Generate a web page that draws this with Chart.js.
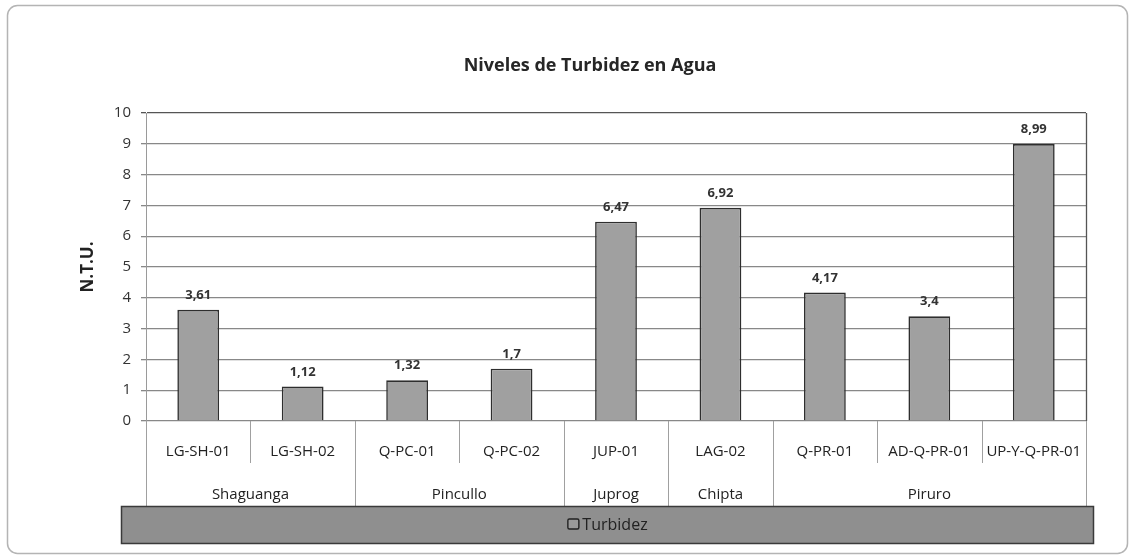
<!DOCTYPE html>
<html><head><meta charset="utf-8">
<script src="https://cdn.jsdelivr.net/npm/chart.js@4.4.0/dist/chart.umd.min.js"></script>
<style>html,body{margin:0;padding:0;background:#fff;}#wrap{width:1134px;height:556px;position:relative;}</style>
</head><body><div id="wrap"><canvas id="c" width="1134" height="556"></canvas></div>
<script>
const categories = ['LG-SH-01','LG-SH-02','Q-PC-01','Q-PC-02','JUP-01','LAG-02','Q-PR-01','AD-Q-PR-01','UP-Y-Q-PR-01'];
const turbidez = [3.61,1.12,1.32,1.7,6.47,6.92,4.17,3.4,8.99];
const valueLabels = ['3,61','1,12','1,32','1,7','6,47','6,92','4,17','3,4','8,99'];
const groups = ['Shaguanga','Pincullo','Juprog','Chipta','Piruro'];
const groupSpans = [2,2,1,1,3];
const seriesName = 'Turbidez';
const chartTitle = 'Niveles de Turbidez en Agua';
const yTitle = 'N.T.U.';
const yMin = 0, yMax = 10, yStep = 1;

const FONT = "'Open Sans', 'DejaVu Sans', sans-serif";

const decor = {
  id: 'decor',
  beforeDraw(chart) {
    const ctx = chart.ctx;
    ctx.save();
    ctx.fillStyle = '#fff';
    ctx.fillRect(0, 0, chart.width, chart.height);
    ctx.strokeStyle = '#b4b4b4';
    ctx.lineWidth = 1.5;
    ctx.beginPath();
    ctx.roundRect(7.5, 5.5, 1120, 548, 10);
    ctx.stroke();
    ctx.fillStyle = '#262626';
    ctx.font = "bold 18px " + FONT;
    ctx.textAlign = 'center';
    ctx.textBaseline = 'middle';
    ctx.fillText(chartTitle, 590, 66);
    ctx.restore();
  },
  afterDraw(chart) {
    const ctx = chart.ctx;
    const ca = chart.chartArea;
    const xs = chart.scales.x;
    const n = categories.length;
    const bnd = [ca.left];
    for (let i = 1; i < n; i++) bnd.push((xs.getPixelForValue(i - 1) + xs.getPixelForValue(i)) / 2);
    bnd.push(ca.right);
    const rowMid = ca.bottom + 42;
    const tableBottom = xs.bottom;
    ctx.save();
    ctx.strokeStyle = '#555';
    ctx.lineWidth = 1.3;
    ctx.beginPath();
    ctx.moveTo(Math.round(ca.right) + 0.5, ca.top);
    ctx.lineTo(Math.round(ca.right) + 0.5, ca.bottom);
    ctx.stroke();
    const groupEdges = new Set([0]);
    let acc = 0;
    groupSpans.forEach(s => { acc += s; groupEdges.add(acc); });
    ctx.strokeStyle = '#a0a0a0';
    ctx.lineWidth = 1;
    for (let i = 0; i <= n; i++) {
      const x = Math.round(bnd[i]) + 0.5;
      ctx.beginPath();
      ctx.moveTo(x, ca.bottom);
      ctx.lineTo(x, groupEdges.has(i) ? tableBottom : rowMid);
      ctx.stroke();
    }
    ctx.fillStyle = '#222';
    ctx.font = "15px " + FONT;
    ctx.textAlign = 'center';
    ctx.textBaseline = 'middle';
    acc = 0;
    groups.forEach((g, k) => {
      const x0 = bnd[acc], x1 = bnd[acc + groupSpans[k]];
      ctx.fillText(g, (x0 + x1) / 2, ca.bottom + 74);
      acc += groupSpans[k];
    });
    const meta = chart.getDatasetMeta(0);
    ctx.font = "bold 13px " + FONT;
    ctx.fillStyle = '#333';
    ctx.textBaseline = 'alphabetic';
    meta.data.forEach((bar, i) => {
      ctx.fillText(valueLabels[i], bar.x, bar.y - 11);
    });
    const lt = tableBottom, lb = tableBottom + 37;
    ctx.fillStyle = '#8f8f8f';
    ctx.fillRect(121, lt, 973, lb - lt);
    ctx.strokeStyle = '#3a3a3a';
    ctx.lineWidth = 1.5;
    ctx.strokeRect(121.5, lt + 0.5, 972, lb - lt);
    const ly = (lt + lb) / 2;
    ctx.font = "16px " + FONT;
    const tw = ctx.measureText(seriesName).width;
    const itemW = 12 + 3 + tw;
    const cx = (121 + 1094) / 2;
    const bx = cx - itemW / 2;
    ctx.strokeStyle = '#222';
    ctx.lineWidth = 1.4;
    ctx.fillStyle = '#9a9a9a';
    ctx.beginPath();
    ctx.roundRect(bx + 0.5, ly - 5.5, 11, 10, 1.5);
    ctx.fill();
    ctx.stroke();
    ctx.fillStyle = '#222';
    ctx.textAlign = 'left';
    ctx.textBaseline = 'middle';
    ctx.fillText(seriesName, bx + 15, ly + 1);
    ctx.restore();
  }
};

new Chart(document.getElementById('c'), {
  type: 'bar',
  data: {
    labels: categories,
    datasets: [{
      label: seriesName,
      data: turbidez,
      backgroundColor: '#a0a0a0',
      borderColor: '#2e2e2e',
      borderWidth: 1.6,
      barPercentage: 0.8,
      categoryPercentage: 0.5
    }]
  },
  options: {
    responsive: false,
    animation: false,
    devicePixelRatio: 1,
    layout: { padding: { left: 0, right: 48, top: 113, bottom: 50 } },
    plugins: { legend: { display: false }, title: { display: false }, tooltip: { enabled: false } },
    scales: {
      x: {
        grid: { display: false, drawTicks: false },
        border: { display: false },
        ticks: { color: '#222', font: { family: FONT, size: 15 }, padding: 22, maxRotation: 0, autoSkip: false },
        afterFit(s) { s.height = 85; }
      },
      y: {
        min: yMin, max: yMax,
        ticks: { stepSize: yStep, color: '#333', font: { family: FONT, size: 15 }, padding: 10 },
        grid: {
          color: c => (c.tick && c.tick.value === yMax) ? '#555' : '#888',
          lineWidth: 1.3, tickLength: 5
        },
        border: { display: true, color: '#9a9a9a', width: 1 },
        title: { display: true, text: yTitle, color: '#222', font: { family: FONT, size: 17, weight: 'bold' }, padding: { top: 78, bottom: 0 } },
        afterFit(s) { s.width = 146; }
      }
    }
  },
  plugins: [decor]
});
</script></body></html>
